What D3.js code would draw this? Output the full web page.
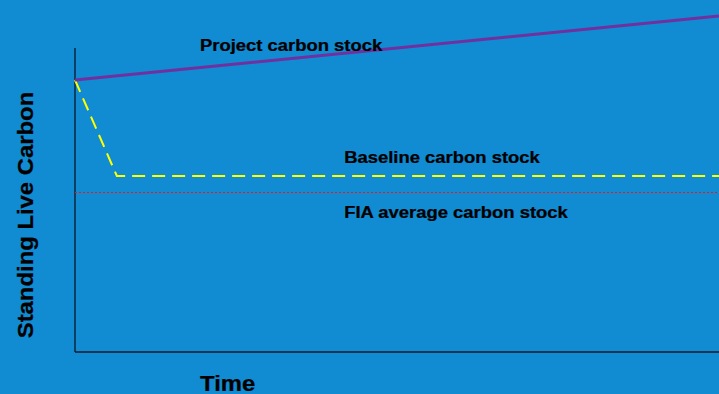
<!DOCTYPE html>
<html>
<head>
<meta charset="utf-8">
<script src="https://cdn.jsdelivr.net/npm/d3@7"></script>
<style>
  html, body { margin: 0; padding: 0; background: #118bd2; }
  svg { display: block; }
  text { font-family: "Liberation Sans", Arial, sans-serif; font-weight: bold; fill: #000; stroke: #000; stroke-width: 0.25; }
</style>
</head>
<body>
<div id="chart"></div>
<script>
// Time runs 0..100, carbon stock in relative units
const projectTime = [0, 100];
const projectCarbon = [85, 105];
const baselineTime = [0, 6.5, 100];
const baselineCarbon = [85, 55, 55];
const fiaTime = [0, 100];
const fiaCarbon = [50, 50];
const seriesLabels = ["Project carbon stock", "Baseline carbon stock", "FIA average carbon stock"];
const labelAnchors = [[19.4, 94.2], [41.8, 59], [41.8, 42]];

const W = 719, H = 394;
const stretch = 1.085; // labels are set slightly wide
const svg = d3.select("#chart").append("svg").attr("width", W).attr("height", H);

const x = d3.scaleLinear().domain([0, 100]).range([75, 719]);
const y = d3.scaleLinear().domain([0, 100]).range([352, 32]);

const line = d3.line().x(d => x(d[0])).y(d => y(d[1]));
const zip = (a, b) => a.map((v, i) => [v, b[i]]);

// axes: plain vertical and horizontal rules, no ticks
svg.append("line").attr("x1", x(0)).attr("x2", x(0)).attr("y1", y(95)).attr("y2", y(0))
  .attr("stroke", "#0a1a2a").attr("stroke-width", 1.3);
svg.append("line").attr("x1", x(0)).attr("x2", x(100)).attr("y1", y(0)).attr("y2", y(0))
  .attr("stroke", "#0a1a2a").attr("stroke-width", 1.3);

// FIA average: thin red dotted line
svg.append("path").attr("d", line(zip(fiaTime, fiaCarbon)))
  .attr("fill", "none").attr("stroke", "#ff1010").attr("stroke-width", 1)
  .attr("shape-rendering", "crispEdges")
  .attr("stroke-dasharray", "2,2");

// baseline: yellow dashed
svg.append("path").attr("d", line(zip(baselineTime, baselineCarbon)))
  .attr("fill", "none").attr("stroke", "#ffff00").attr("stroke-width", 2)
  .attr("stroke-dasharray", "13,7");

// project: solid purple
svg.append("path").attr("d", line(zip(projectTime, projectCarbon)))
  .attr("fill", "none").attr("stroke", "#7030a0").attr("stroke-width", 3);

// series labels
svg.selectAll("text.series").data(seriesLabels).join("text")
  .attr("class", "series")
  .attr("transform", (d, i) => `translate(${x(labelAnchors[i][0])},${y(labelAnchors[i][1])}) scale(${stretch},1)`)
  .attr("font-size", 17)
  .text(d => d);

// axis titles
svg.append("text").attr("transform", `translate(200,390.5) scale(${stretch},1)`)
  .attr("font-size", 22).text("Time");
svg.append("text")
  .attr("transform", `translate(33,215) rotate(-90) scale(${stretch},1)`)
  .attr("text-anchor", "middle").attr("font-size", 22)
  .text("Standing Live Carbon");
</script>
</body>
</html>
